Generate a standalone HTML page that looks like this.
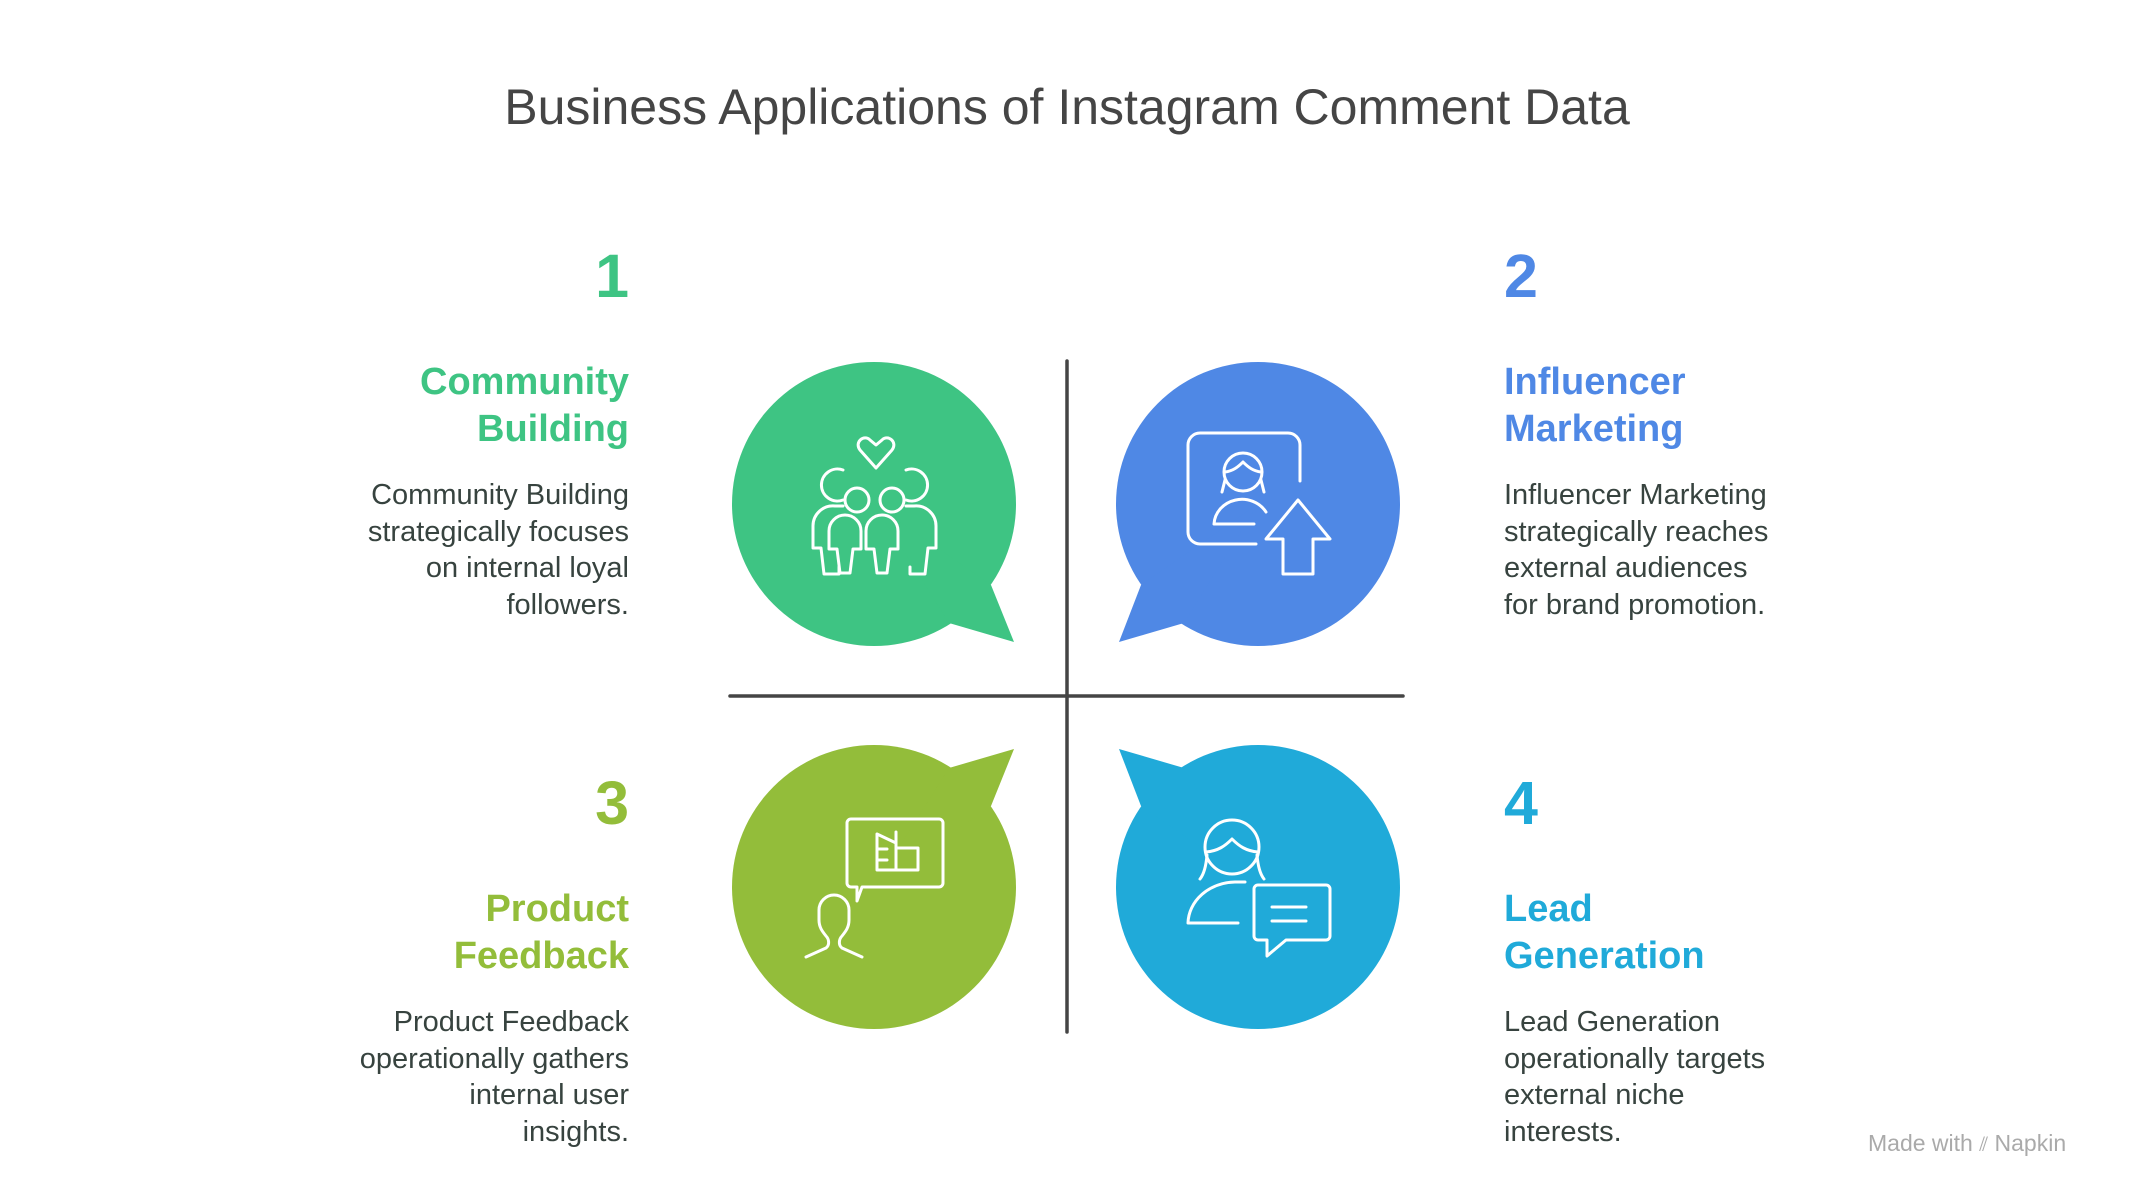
<!DOCTYPE html>
<html><head><meta charset="utf-8"><style>
body{margin:0;width:2134px;height:1200px;background:#fff;position:relative;overflow:hidden;font-family:"Liberation Sans",sans-serif}
.t{position:absolute;white-space:nowrap}
.num{font-size:61px;line-height:61px;font-weight:bold}
.h{font-size:38px;line-height:47px;font-weight:bold}
.b{font-size:29px;line-height:36.5px;color:#37433f}
.L{right:1505px;text-align:right}
.R{left:1504px;text-align:left}
</style></head><body>
<div class="t" style="left:0;width:2134px;text-align:center;top:78px;font-size:50px;color:#454545">Business Applications of Instagram Comment Data</div>

<svg width="2134" height="1200" style="position:absolute;left:0;top:0">
<g>
<circle cx="874" cy="504" r="142" fill="#3EC483"/>
<polygon points="874,504 991,585 1014,642 949,623" fill="#3EC483"/>
<circle cx="1258" cy="504" r="142" fill="#4F88E5"/>
<polygon points="1258,504 1141,585 1119,642 1184,623" fill="#4F88E5"/>
<circle cx="874" cy="887" r="142" fill="#93BD3A"/>
<polygon points="874,887 991,806 1014,749 949,768" fill="#93BD3A"/>
<circle cx="1258" cy="887" r="142" fill="#20AAD9"/>
<polygon points="1258,887 1141,806 1119,749 1184,768" fill="#20AAD9"/>
</g>
<line x1="1067" y1="361" x2="1067" y2="1032" stroke="#454545" stroke-width="3.5" stroke-linecap="round"/>
<line x1="730" y1="696" x2="1403" y2="696" stroke="#454545" stroke-width="3.5" stroke-linecap="round"/>
<g fill="none" stroke="#fff" stroke-width="3" stroke-linecap="round" stroke-linejoin="round">
<!-- green icon -->
<path d="M876,468 l-16,-18 c-6,-8 4,-16 10,-10 l6,5 l6,-5 c6,-6 16,2 10,10 z"/>
<circle cx="857" cy="500" r="12"/><circle cx="892" cy="500" r="12"/>
<path d="M840,573 l-3,-24 h-8 v-18 a16,16 0 0 1 32,0 v18 h-8 l-3,24 z"/>
<path d="M877,573 l-3,-24 h-8 v-18 a16,16 0 0 1 32,0 v18 h-8 l-3,24 z"/>
<path d="M843,470 a16,16 0 1 0 0,30 M843,506 h-8 a20,20 0 0 0 -22,20 v22 h8 l3,26 h15 v-7"/>
<path d="M906,470 a16,16 0 1 1 0,30 M906,506 h8 a20,20 0 0 1 22,20 v22 h-8 l-3,26 h-15 v-7"/>
<!-- blue icon -->
<path d="M1256,544 h-56 a12,12 0 0 1 -12,-12 v-87 a12,12 0 0 1 12,-12 h88 a12,12 0 0 1 12,12 v36"/>
<circle cx="1243" cy="472" r="19"/>
<path d="M1225,472 c8,-1 13,-5 18,-10 c5,5 10,9 18,10 M1222,492 l3,-12 M1264,492 l-3,-12"/>
<path d="M1214,524 a28,26 0 0 1 52,-12 M1214,524 h40"/>
<polygon points="1298,500 1330,539 1313,539 1313,574 1283,574 1283,539 1266,539"/>
<!-- olive icon -->
<path d="M862,887 h77 a4,4 0 0 0 4,-4 v-60 a4,4 0 0 0 -4,-4 h-88 a4,4 0 0 0 -4,4 v60 a4,4 0 0 0 4,4 h6 v14 z"/>
<path d="M877,834 v36 h41 v-22 h-22 v-16 M877,834 l19,9 v27 M877,849 h10 M877,860 h10"/>
<path d="M806,957 l20,-9 c4,-3 3,-9 0,-12 c-4,-5 -7,-9 -7,-16 v-10 a15,15 0 0 1 30,0 v10 c0,7 -3,11 -7,16 c-3,3 -4,9 0,12 l20,9"/>
<!-- cyan icon -->
<circle cx="1232" cy="847" r="27"/>
<path d="M1206,852 c12,-1 19,-6 26,-13 c7,7 14,12 26,13 M1200,879 c4,-5 6,-12 7,-24 M1264,879 c-4,-5 -6,-12 -7,-24"/>
<path d="M1245,882 h-10 a48,42 0 0 0 -47,41 h50"/>
<path d="M1258,885 h68 a4,4 0 0 1 4,4 v47 a4,4 0 0 1 -4,4 h-40 l-19,16 v-16 h-9 a4,4 0 0 1 -4,-4 v-47 a4,4 0 0 1 4,-4 z"/>
<path d="M1272,907 h34 M1272,921 h34"/>
</g>
</svg>

<div class="t num L" style="top:246px;color:#3EC483">1</div>
<div class="t h L" style="top:359px;color:#3EC483">Community<br>Building</div>
<div class="t b L" style="top:477px">Community Building<br>strategically focuses<br>on internal loyal<br>followers.</div>

<div class="t num R" style="top:246px;color:#4F88E5">2</div>
<div class="t h R" style="top:359px;color:#4F88E5">Influencer<br>Marketing</div>
<div class="t b R" style="top:477px">Influencer Marketing<br>strategically reaches<br>external audiences<br>for brand promotion.</div>

<div class="t num L" style="top:773px;color:#93BD3A">3</div>
<div class="t h L" style="top:886px;color:#93BD3A">Product<br>Feedback</div>
<div class="t b L" style="top:1004px">Product Feedback<br>operationally gathers<br>internal user<br>insights.</div>

<div class="t num R" style="top:773px;color:#20AAD9">4</div>
<div class="t h R" style="top:886px;color:#20AAD9">Lead<br>Generation</div>
<div class="t b R" style="top:1004px">Lead Generation<br>operationally targets<br>external niche<br>interests.</div>

<div class="t" style="left:1868px;top:1130px;font-size:23px;color:#aaa">Made with <span style="font-size:20px">⫽</span> Napkin</div>
</body></html>
